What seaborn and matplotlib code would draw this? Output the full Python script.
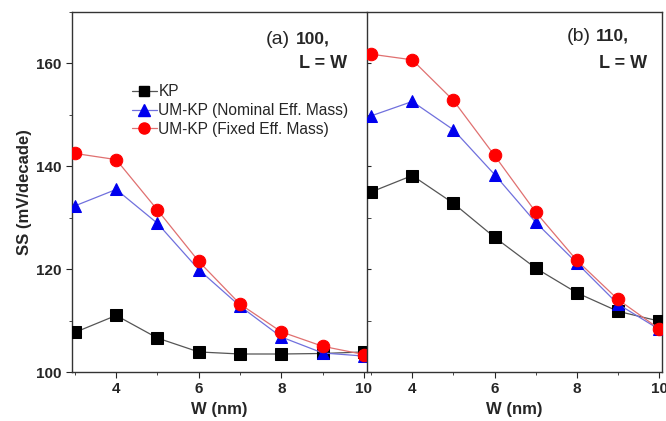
import numpy as np
import pandas as pd
import matplotlib
matplotlib.use("Agg")
import matplotlib.pyplot as plt
import seaborn as sns
from matplotlib.lines import Line2D
from matplotlib.ticker import MultipleLocator

sns.set_style("ticks")
plt.rcParams['font.family'] = ['Liberation Sans', 'DejaVu Sans']

w_nm = [3, 4, 5, 6, 7, 8, 9, 10]

# (a) 100, L = W
kp_100 = [107.7, 111.0, 106.6, 103.9, 103.5, 103.5, 103.6, 103.9]
nominal_100 = [132.3, 135.5, 128.9, 119.9, 112.8, 106.8, 103.7, 103.1]
fixed_100 = [142.5, 141.3, 131.5, 121.5, 113.2, 107.8, 105.0, 103.4]

# (b) 110, L = W
kp_110 = [135.0, 138.2, 132.8, 126.2, 120.2, 115.4, 111.8, 109.9]
nominal_110 = [149.8, 152.6, 147.1, 138.4, 129.1, 121.2, 113.2, 108.3]
fixed_110 = [161.8, 160.7, 152.8, 142.1, 131.1, 121.7, 114.1, 108.4]

series_names = ["KP", "UM-KP (Nominal Eff. Mass)", "UM-KP (Fixed Eff. Mass)"]
markers = ["s", "^", "o"]
marker_colors = ["black", "#0000ee", "#ff0000"]
line_colors = ["#555555", "#7070dd", "#e07070"]
marker_sizes = [8, 9, 9]

fig = plt.figure(figsize=(6.66, 4.21), dpi=100)
W, H = 666, 421
ax1 = fig.add_axes([72 / W, 49 / H, (366 - 72) / W, (372 - 12) / H])
ax2 = fig.add_axes([367 / W, 49 / H, (662 - 367) / W, (372 - 12) / H])


def draw(ax, values):
    for name, vals, m, mc, lc, ms in zip(series_names, values, markers,
                                         marker_colors, line_colors, marker_sizes):
        df = pd.DataFrame({"W": w_nm, "SS": vals})
        sns.lineplot(data=df, x="W", y="SS", ax=ax, color=lc, lw=0.9,
                     marker=m, markersize=ms, markerfacecolor=mc,
                     markeredgecolor=mc, legend=False, zorder=3)
    ax.set_ylim(100, 170)
    ax.set_xticks([4, 6, 8, 10])
    ax.xaxis.set_minor_locator(MultipleLocator(1))
    ax.yaxis.set_major_locator(MultipleLocator(20))
    ax.yaxis.set_minor_locator(MultipleLocator(10))
    ax.set_xlabel("W (nm)", fontsize=12, fontweight="bold", labelpad=4)
    for s in ax.spines.values():
        s.set_linewidth(1.0)
        s.set_color("#333333")
    for lab in ax.get_xticklabels() + ax.get_yticklabels():
        lab.set_fontweight("bold")


draw(ax1, [kp_100, nominal_100, fixed_100])
draw(ax2, [kp_110, nominal_110, fixed_110])

ax1.set_xlim(2.93, 10.05)
ax2.set_xlim(2.9, 10.07)

ax1.set_ylabel("SS (mV/decade)", fontsize=12, fontweight="bold", labelpad=3)
ax1.tick_params(axis="both", which="major", labelsize=11, length=4, direction="out")
ax1.tick_params(axis="both", which="minor", length=2, direction="out")
ax1.spines["right"].set_visible(False)

ax2.set_ylabel("")
ax2.tick_params(axis="y", which="both", direction="in", labelleft=False, length=3)
ax2.tick_params(axis="x", which="major", labelsize=11, length=4, direction="out")
ax2.tick_params(axis="x", which="minor", length=2, direction="out")

# panel titles
ax1.text(0.66, 0.924, "(a)", transform=ax1.transAxes, fontsize=14, ha="left", va="center")
ax1.text(0.76, 0.924, "100,", transform=ax1.transAxes, fontsize=12.5, fontweight="bold",
         ha="left", va="center")
ax1.text(0.935, 0.856, "L = W", transform=ax1.transAxes, fontsize=13, fontweight="bold",
         ha="right", va="center")
ax2.text(0.677, 0.932, "(b)", transform=ax2.transAxes, fontsize=14, ha="left", va="center")
ax2.text(0.775, 0.932, "110,", transform=ax2.transAxes, fontsize=12.5, fontweight="bold",
         ha="left", va="center")
ax2.text(0.948, 0.858, "L = W", transform=ax2.transAxes, fontsize=13, fontweight="bold",
         ha="right", va="center")

handles = [Line2D([0], [0], color=lc, lw=0.9, marker=m, markersize=ms - 1,
                  markerfacecolor=mc, markeredgecolor=mc)
           for m, mc, lc, ms in zip(markers, marker_colors, line_colors, marker_sizes)]
ax1.legend(handles, series_names, loc="upper left", bbox_to_anchor=(0.183, 0.817),
           frameon=False, fontsize=11.2, handlelength=1.6, handletextpad=0.1,
           labelspacing=0.25, borderaxespad=0)

fig.savefig("out.png", dpi=100)
